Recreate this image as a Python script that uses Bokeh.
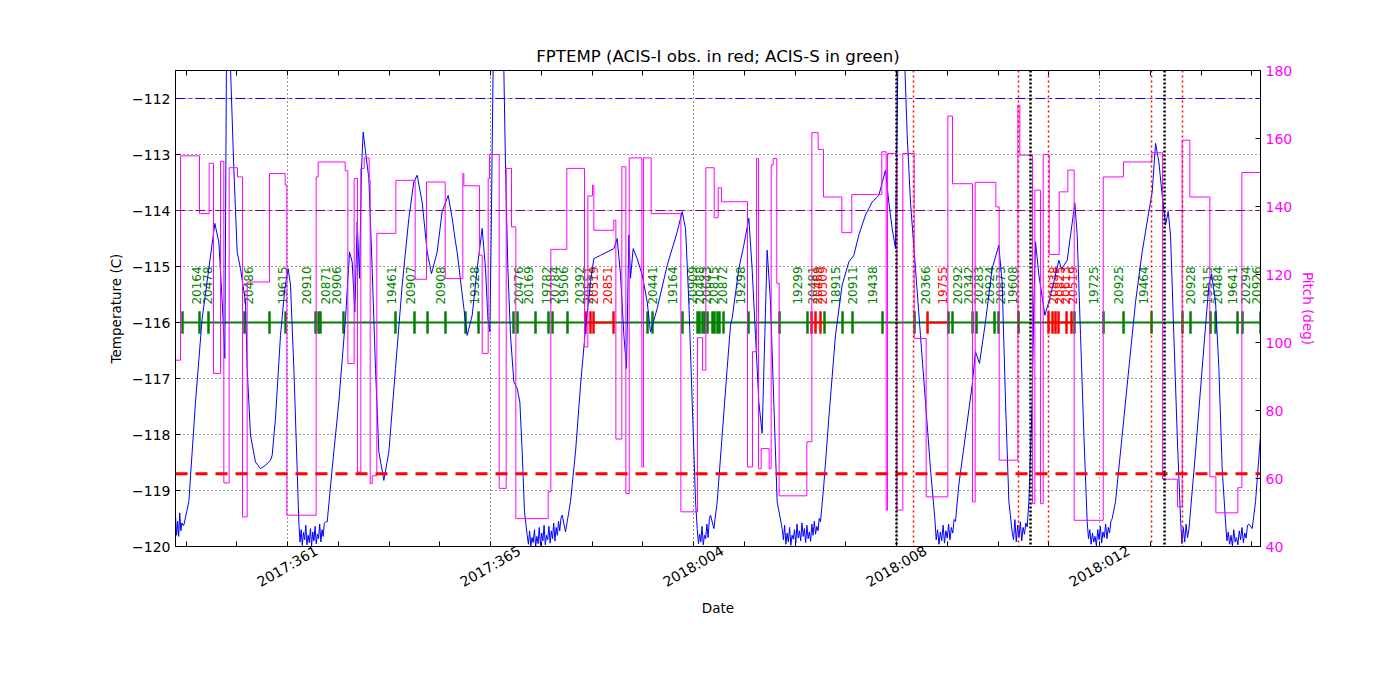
import math
import numpy as np
from bokeh.plotting import figure
from bokeh.models import ColumnDataSource, Range1d, LinearAxis, FixedTicker, Span
from bokeh.core.properties import value
from bokeh.embed import file_html
from bokeh.resources import INLINE

# ---------------- data (x = day of year, 2018:001 = 366) ----------------
x_tick_days = [361, 365, 369, 373, 377]
x_tick_labels = ["2017:361", "2017:365", "2018:004", "2018:008", "2018:012"]
x_minor_days = [359, 360, 361, 362, 363, 364, 365, 366, 367, 368, 369, 370, 371, 372, 373, 374,
                375, 376, 377, 378, 379, 380]
temp_ticks = [-120, -119, -118, -117, -116, -115, -114, -113, -112]
pitch_ticks = [40, 60, 80, 100, 120, 140, 160, 180]

# FPTEMP smooth parts
temp_day = [358.957, 359.056, 359.187, 359.318, 359.450, 359.568, 359.647, 359.713, 359.765,
            359.800, 359.835, 359.877, 359.942, 360.008, 360.074, 360.172, 360.205, 360.271,
            360.369, 360.468, 360.566, 360.665, 360.698, 360.763, 360.862, 360.947, 361.013,
            361.059, 361.125, 361.190,
            361.782, 361.880, 362.011, 362.143, 362.222, 362.274, 362.327, 362.373, 362.419,
            362.458, 362.491, 362.537, 362.603, 362.668, 362.734, 362.800, 362.898, 362.997,
            363.128, 363.260, 363.391, 363.489, 363.555, 363.653, 363.752, 363.837, 363.949,
            364.047, 364.166, 364.245, 364.310, 364.343, 364.475, 364.540, 364.639, 364.737,
            364.836, 364.902, 364.948, 364.987, 365.013, 365.060, 365.250, 365.296, 365.342,
            365.394, 365.460, 365.526, 365.578, 365.624, 365.670,
            366.478, 366.576, 366.675, 366.774, 366.872, 366.971, 367.036, 367.168, 367.430,
            367.496, 367.562, 367.628, 367.680, 367.726, 367.759, 367.811, 367.890, 367.989,
            368.087, 368.153, 368.284, 368.481, 368.679, 368.777, 368.843, 368.908, 368.974,
            369.040,
            369.401, 369.467, 369.565, 369.663, 369.729, 369.761, 369.893, 369.991, 370.090,
            370.155, 370.221, 370.287, 370.352, 370.405, 370.451, 370.517, 370.582, 370.648,
            371.568, 371.666, 371.797, 371.929, 372.060, 372.159, 372.257, 372.389, 372.520,
            372.651, 372.783, 372.848, 372.914, 372.980, 373.035, 373.140, 373.210, 373.275,
            373.374, 373.472, 373.571, 373.669,
            374.228, 374.359, 374.490, 374.556, 374.635, 374.753, 374.884, 375.016, 375.082,
            375.148, 375.214,
            375.608, 375.673, 375.706, 375.739, 375.805, 375.923, 376.002, 376.100, 376.199,
            376.251, 376.297, 376.363, 376.429, 376.514, 376.560, 376.626, 376.692,
            377.315, 377.447, 377.578, 377.710, 377.841, 377.972, 378.038, 378.104, 378.169,
            378.235, 378.301, 378.353, 378.399, 378.465, 378.531,
            378.892, 379.023, 379.155, 379.207, 379.286, 379.352, 379.417,
            380.009, 380.074, 380.173]
temp_val = [-119.62, -119.20, -117.42, -115.93, -115.04, -114.23, -114.56, -115.63, -116.64,
            -110.80, -110.80, -111.46, -113.25, -114.74, -115.04, -115.63, -116.82, -118.01,
            -118.49, -118.61, -118.55, -118.46, -118.37, -117.71, -116.23, -115.39, -115.04,
            -115.33, -116.82, -118.61,
            -119.56, -118.61, -117.42, -115.93, -114.74, -114.92, -115.81, -114.20, -115.21,
            -113.25, -112.60, -112.95, -113.43, -115.04, -116.82, -118.31, -118.82, -118.31,
            -116.82, -115.33, -114.14, -113.49, -113.37, -113.85, -114.74, -115.13, -114.74,
            -114.02, -113.73, -114.14, -114.56, -114.74, -115.75, -116.23, -115.87, -115.04,
            -114.32, -115.04, -115.93, -116.17, -114.44, -110.80, -110.80, -113.25, -115.04,
            -116.23, -117.06, -117.18, -117.42, -118.31, -119.38,
            -119.74, -119.20, -118.31, -117.12, -116.11, -115.27, -114.86, -114.80, -114.68,
            -114.50, -115.15, -116.23, -116.82, -114.44, -115.21, -114.68, -114.86, -115.15,
            -115.63, -116.17, -115.75, -114.98, -114.38, -114.02, -114.32, -115.63, -117.42,
            -119.20,
            -119.68, -119.20, -118.01, -116.82, -116.05, -115.93, -115.04, -114.62, -114.14,
            -115.04, -116.23, -117.42, -117.98, -116.23, -114.71, -115.63, -117.42, -119.20,
            -118.90, -117.71, -116.23, -115.33, -114.92, -114.80, -114.44, -114.08, -113.85,
            -113.73, -113.28, -113.85, -114.32, -114.68, -110.80, -110.80, -112.65, -113.85,
            -115.04, -116.23, -117.42, -118.61,
            -118.90, -118.01, -117.12, -116.52, -116.73, -115.99, -115.04, -114.62, -115.30,
            -117.42, -119.20,
            -119.20, -117.42, -115.63, -114.56, -115.15, -115.87, -115.63, -115.27, -114.89,
            -115.04, -114.98, -114.89, -114.44, -113.87, -114.44, -116.23, -118.01,
            -119.20, -118.01, -116.82, -115.63, -114.74, -114.02, -113.67, -112.80, -113.13,
            -113.73, -114.26, -114.02, -114.44, -116.23, -118.01,
            -118.31, -116.82, -115.33, -115.13, -115.63, -116.82, -118.61,
            -119.68, -119.20, -118.01]

# FPTEMP noisy cold periods (evenly sampled)
noise_start = [358.793, 361.223, 365.723, 369.073, 370.747, 373.755, 375.279, 376.757, 378.596, 379.483]
noise_end = [358.940, 361.749, 366.412, 369.335, 371.502, 374.162, 375.575, 377.250, 378.761, 379.943]
noise_vals = [
    [-119.45, -119.80, -119.55, -119.82, -119.40, -119.72, -119.58, -119.62],
    [-119.56, -119.92, -119.70, -119.98, -119.75, -119.88, -119.62, -119.97, -119.80, -119.93,
     -119.68, -119.99, -119.74, -119.90, -119.64, -119.95, -119.78, -119.86, -119.60, -119.92,
     -119.70, -119.82, -119.58, -119.56],
    [-119.80, -119.96, -119.72, -119.99, -119.84, -119.93, -119.70, -120.00, -119.82, -119.95,
     -119.66, -119.98, -119.76, -119.90, -119.62, -119.97, -119.80, -119.88, -119.64, -119.94,
     -119.72, -119.86, -119.58, -119.90, -119.66, -119.80, -119.55, -119.72, -119.50, -119.44],
    [-119.68, -119.95, -119.78, -119.92, -119.64, -119.97, -119.80, -119.86, -119.60, -119.84,
     -119.52, -119.44],
    [-119.68, -119.88, -119.62, -119.96, -119.76, -119.92, -119.66, -119.98, -119.80, -119.87,
     -119.70, -119.94, -119.60, -119.85, -119.72, -119.90, -119.58, -119.82, -119.68, -119.93,
     -119.62, -119.86, -119.74, -119.91, -119.60, -119.80, -119.55, -119.78, -119.64, -119.72,
     -119.50, -119.56],
    [-119.50, -119.88, -119.70, -119.96, -119.74, -119.90, -119.62, -119.94, -119.72, -119.85,
     -119.60, -119.88, -119.66, -119.76, -119.52, -119.55],
    [-119.74, -119.88, -119.52, -119.92, -119.62, -119.84, -119.56, -119.90, -119.66, -119.78,
     -119.58, -119.65],
    [-119.56, -119.86, -119.70, -119.96, -119.76, -119.92, -119.82, -119.99, -119.70, -119.88,
     -119.64, -119.94, -119.74, -119.84, -119.60, -119.86, -119.66, -119.76, -119.55, -119.50],
    [-119.50, -119.95, -119.66, -119.92, -119.60, -119.84, -119.70],
    [-119.56, -119.90, -119.74, -119.96, -119.80, -120.00, -119.70, -119.92, -119.84, -119.97,
     -119.72, -119.88, -119.66, -119.93, -119.76, -119.85, -119.62, -119.60],
]

# Pitch (step levels, value holds from each day until the next)
pitch_day = [358.793, 358.892, 359.266, 359.456, 359.542, 359.680, 359.745, 359.850, 360.015, 360.113,
             360.205, 360.645, 360.954, 360.987, 361.565, 361.604, 362.136, 362.189, 362.313, 362.379,
             362.445, 362.511, 362.609, 362.629, 362.668, 362.760, 363.135, 363.515, 363.739, 364.107,
             364.455, 364.475, 364.783, 364.836, 364.954, 364.980, 365.171, 365.309, 365.414, 365.499,
             366.136, 366.189, 366.504, 366.852, 366.918, 367.010, 367.036, 367.430, 367.470, 367.588,
             367.667, 367.733, 367.982, 368.015, 368.166, 368.751, 369.079, 369.178, 369.243, 369.408,
             369.486, 369.552,
             370.064, 370.162, 370.241, 370.280, 370.333, 370.490, 370.530, 370.569, 370.641, 370.687,
             371.233, 371.331, 371.456, 371.561, 371.922, 372.119, 372.710, 372.796, 372.822, 373.006,
             373.124, 373.348, 373.584, 374.011, 374.103, 374.497, 374.550, 374.957, 375.023,
             375.391, 375.430, 375.680, 375.726, 375.838, 375.890, 376.008, 376.206, 376.376, 376.501,
             377.073, 377.473, 378.031, 378.242, 378.537, 378.629, 378.780, 379.174, 379.293, 379.726,
             379.805, 380.172]
pitch_val = [94.8, 154.9, 137.9, 152.7, 90.9, 153.3, 58.7, 151.4, 148.7, 48.7,
             117.8, 149.7, 146.3, 49.2, 148.7, 153.1, 150.5, 93.8, 148.2, 61.9,
             151.2, 154.3, 147.7, 58.5, 60.8, 132.1, 147.7, 118.6, 147.2, 118.8,
             149.7, 146.1, 125.7, 96.8, 148.2, 155.3, 57.1, 151.2, 134.0, 48.2,
             56.1, 127.4, 151.2, 98.7, 143.1, 146.3, 133.0, 136.0, 71.6, 151.7,
             55.6, 154.3, 63.4, 154.3, 137.9, 50.2, 101.4, 91.9, 151.4, 136.7,
             145.5, 141.4,
             63.4, 97.3, 154.1, 62.9, 68.8, 62.9, 152.2, 154.1, 117.4, 54.9,
             70.8, 161.7, 156.8, 142.8, 132.3, 143.5, 156.1, 50.7, 155.6, 50.7,
             155.6, 101.2, 54.6, 166.6, 146.7, 53.1, 147.1, 139.9, 65.4,
             169.8, 155.1, 52.6, 144.8, 52.6, 155.3, 125.9, 144.3, 150.7, 47.7,
             148.7, 153.1, 155.8, 59.8, 51.7, 159.5, 142.8, 60.5, 49.9, 57.3,
             150.0, 150.0]

# Observations: boundaries (instrument S=ACIS-S green, I=ACIS-I red)
obs_edge_day = [358.931, 359.266, 359.443, 360.153, 360.645, 360.961, 361.552, 361.611, 361.650, 362.103,
                363.128, 363.502, 363.759, 364.113, 364.507, 364.764, 365.453, 365.532, 365.887, 366.143,
                366.222, 366.517, 366.872, 366.970, 367.030, 367.424, 368.094, 368.192, 368.783, 369.079,
                369.118, 369.177, 369.217, 369.276, 369.374, 369.414, 369.473, 369.512, 369.591, 370.084,
                370.695, 371.246, 371.325, 371.404, 371.502, 371.581, 371.936, 372.133, 372.724, 373.355,
                373.611, 374.025, 374.103, 374.498, 374.576, 374.931, 375.010, 375.404, 375.995, 376.074,
                376.133, 376.192, 376.350, 376.448, 376.507, 377.079, 377.473, 378.025, 378.635, 378.793,
                379.187, 379.286, 379.719, 379.818, 380.172]
obs_edge_instr = ["S"] * 22 + ["I"] * 4 + ["S"] * 16 + ["I"] * 3 + ["S"] * 5 + ["I"] + ["S"] * 7 + \
                 ["I"] * 6 + ["S"] * 11
acis_s_span = [358.931, 380.172]
acis_i_start = [366.872, 371.325, 373.611, 375.995]
acis_i_stop = [367.424, 371.581, 374.025, 376.507]

obsid = ["20164", "20478", "20486", "19615", "20910", "20871", "20906", "19461", "20907", "20908",
         "19328", "20476", "20169", "19782", "20784", "19506", "20392", "20551", "20519", "20851",
         "20441", "19164", "20909", "20488", "20643", "20815", "20872", "19298", "19299", "20481",
         "20469", "20509", "18915", "20911", "19438", "20366", "19755", "20292", "20342", "20283",
         "20924", "20873", "19608", "20838", "20825", "20613", "20519", "19725", "20925", "19464",
         "20928", "19515", "20484", "19641", "20294", "20926"]
obsid_day = [359.207, 359.424, 360.232, 360.901, 361.374, 361.749, 361.966, 363.049, 363.424, 364.015,
             364.685, 365.552, 365.749, 366.103, 366.261, 366.438, 366.754, 366.931, 367.030, 367.305,
             368.192, 368.586, 368.980, 369.118, 369.256, 369.394, 369.571, 369.926, 371.049, 371.345,
             371.443, 371.542, 371.798, 372.133, 372.527, 373.571, 373.906, 374.202, 374.419, 374.616,
             374.833, 375.049, 375.286, 376.094, 376.212, 376.330, 376.468, 376.882, 377.374, 377.867,
             378.793, 379.128, 379.325, 379.621, 379.877, 380.094]
obsid_instr = ["S"] * 18 + ["I", "I"] + ["S"] * 10 + ["I", "I"] + ["S"] * 4 + ["I"] + ["S"] * 6 + \
              ["I"] * 4 + ["S"] * 9

# reference lines
temp_limits = [-112.0, -114.0, -118.7]
vline_black = [373.0, 375.640, 378.281]
vline_red = [373.335, 375.404, 375.995, 378.025, 378.635]

OBS_Y = -116.0
GREEN = "#008000"
RED = "#ff0000"
MAGENTA = "#ff00ff"
FONT = "DejaVu Sans"
X0, X1 = 358.793, 380.172
LABEL_SHIFT = 0.57   # days; centres the rotated date labels under their ticks

# ---------------- figure ----------------
p = figure(frame_width=1085, frame_height=476,
           min_border_left=175, min_border_right=124, min_border_top=70, min_border_bottom=138,
           x_range=Range1d(X0, X1), y_range=Range1d(-120, -111.5),
           output_backend="svg", toolbar_location=None,
           title="FPTEMP (ACIS-I obs. in red; ACIS-S in green)")
p.background_fill_color = "white"
p.border_fill_color = "white"
p.outline_line_color = "black"
p.outline_line_width = 1
p.title.align = "center"
p.title.text_font = FONT
p.title.text_font_size = "16.6px"
p.title.text_font_style = "normal"
p.title.text_color = "black"

# x axis: tick marks every day (no labels on this axis)
p.xaxis.ticker = FixedTicker(ticks=[], minor_ticks=x_minor_days)
p.xaxis.minor_tick_in = 5
p.xaxis.minor_tick_out = 0
p.xaxis.minor_tick_line_color = "black"
p.xaxis.axis_line_color = "black"
p.xgrid.ticker = FixedTicker(ticks=x_tick_days)

# date labels on a companion axis, rotated 30 deg and centred under the ticks
p.extra_x_ranges = {"datelab": Range1d(X0 - LABEL_SHIFT, X1 - LABEL_SHIFT)}
date_axis = LinearAxis(x_range_name="datelab", ticker=FixedTicker(ticks=x_tick_days),
                       major_label_overrides={d: s for d, s in zip(x_tick_days, x_tick_labels)},
                       major_label_orientation=math.pi / 6, major_tick_line_color=None,
                       minor_tick_line_color=None, axis_line_color=None, major_label_standoff=-3,
                       major_label_text_font=FONT, major_label_text_font_size="14px",
                       major_label_text_color="black", axis_label="Date", axis_label_text_font=FONT,
                       axis_label_text_font_size="13.5px", axis_label_text_font_style="normal",
                       axis_label_text_color="black", axis_label_standoff=0)
p.add_layout(date_axis, "below")

yticker = FixedTicker(ticks=temp_ticks)
p.yaxis.ticker = yticker
p.ygrid.ticker = yticker
p.yaxis.major_label_overrides = {t: ("\u2212" + str(abs(t))) for t in temp_ticks}
p.yaxis.axis_label = "Temperature (C)"
p.yaxis.major_tick_in = 5
p.yaxis.major_tick_out = 0
p.yaxis.minor_tick_line_color = None
p.yaxis.major_label_text_font = FONT
p.yaxis.major_label_text_font_size = "14px"
p.yaxis.major_label_text_color = "black"
p.yaxis.axis_label_text_font = FONT
p.yaxis.axis_label_text_font_size = "13.5px"
p.yaxis.axis_label_text_font_style = "normal"
p.yaxis.axis_label_text_color = "black"
p.yaxis.axis_line_color = "black"

p.grid.grid_line_color = "black"
p.grid.grid_line_dash = "1 3"
p.grid.grid_line_width = 0.8

top = LinearAxis(ticker=FixedTicker(ticks=[], minor_ticks=x_minor_days), minor_tick_in=5, minor_tick_out=0,
                 minor_tick_line_color="black", major_tick_line_color=None, axis_line_color="black")
p.add_layout(top, "above")

p.extra_y_ranges = {"pitch": Range1d(40, 180)}
right = LinearAxis(y_range_name="pitch", ticker=FixedTicker(ticks=pitch_ticks), axis_label="Pitch (deg)",
                   major_tick_in=5, major_tick_out=0, minor_tick_line_color=None,
                   major_label_text_color=MAGENTA, major_label_text_font=FONT,
                   major_label_text_font_size="14px", axis_label_text_color=MAGENTA,
                   axis_label_text_font=FONT, axis_label_text_font_size="13.5px",
                   axis_label_text_font_style="normal", axis_line_color="black")
p.add_layout(right, "right")

# observation bars
p.segment(x0=[acis_s_span[0]], y0=[OBS_Y], x1=[acis_s_span[1]], y1=[OBS_Y], line_color=GREEN, line_width=2)
p.segment(x0=acis_i_start, y0=[OBS_Y] * len(acis_i_start), x1=acis_i_stop, y1=[OBS_Y] * len(acis_i_stop),
          line_color=RED, line_width=2)
edge_colors = [GREEN if s == "S" else RED for s in obs_edge_instr]
p.segment(x0=obs_edge_day, y0=[OBS_Y - 0.2] * len(obs_edge_day), x1=obs_edge_day,
          y1=[OBS_Y + 0.2] * len(obs_edge_day), line_color=edge_colors, line_width=2.5)

lab_src = ColumnDataSource(dict(x=obsid_day, y=[OBS_Y + 0.32] * len(obsid_day), text=obsid,
                                color=[GREEN if s == "S" else RED for s in obsid_instr]))
p.text(x="x", y="y", text="text", source=lab_src, angle=math.pi / 2, text_align="left",
       text_baseline="middle", text_color="color", text_font=value(FONT), text_font_size="12px")

# limit lines
p.add_layout(Span(location=temp_limits[0], dimension="width", line_color="blue", line_width=1,
                  line_dash="10 4 2 4"))
p.add_layout(Span(location=temp_limits[1], dimension="width", line_color="#800080", line_width=1,
                  line_dash="10 4 2 4"))
p.add_layout(Span(location=temp_limits[2], dimension="width", line_color=RED, line_width=3,
                  line_dash="12 8"))

# temperature
xs = list(temp_day)
ys = list(temp_val)
for s, e, v in zip(noise_start, noise_end, noise_vals):
    xs.extend(np.linspace(s, e, len(v)).tolist())
    ys.extend(v)
order = np.argsort(xs)
p.line(x=np.array(xs)[order], y=np.array(ys)[order], line_color="blue", line_width=1)

# vertical event lines
for d in vline_red:
    p.add_layout(Span(location=d, dimension="height", line_color=RED, line_width=1.5, line_dash="2 3"))
for d in vline_black:
    p.add_layout(Span(location=d, dimension="height", line_color="black", line_width=2.5, line_dash="2 2"))

# pitch
p.step(x=pitch_day, y=pitch_val, mode="after", y_range_name="pitch", line_color=MAGENTA, line_width=1)

open("out.html", "w").write(file_html(p, INLINE))
